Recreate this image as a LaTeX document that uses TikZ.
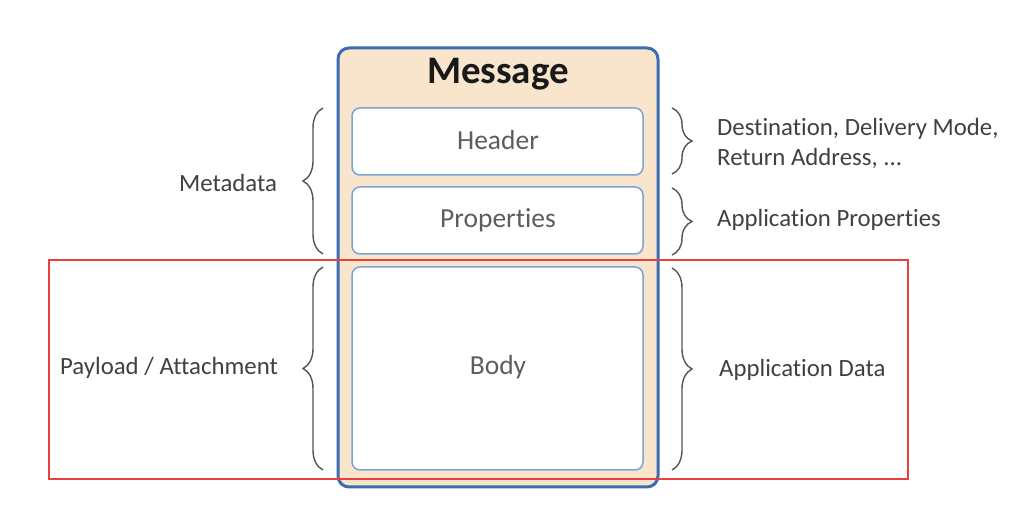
\documentclass[tikz,border=0pt]{standalone}
\usepackage{fontspec}
\setmainfont{Carlito}[Ligatures=NoCommon]
\usetikzlibrary{decorations.pathreplacing}
\definecolor{msgblue}{HTML}{3A6DB3}
\definecolor{msgfill}{HTML}{F9E5CB}
\definecolor{partblue}{HTML}{7AA3D6}
\definecolor{redframe}{HTML}{E8403C}
\definecolor{txtgray}{HTML}{404040}
\definecolor{bracegray}{HTML}{555555}
\tikzset{
  part/.style={draw=partblue, line width=1.5pt, fill=white, rounded corners=8pt, inner sep=0pt},
  partlabel/.style={text=txtgray!85, font=\fontsize{27.5}{30}\selectfont},
  sidelabel/.style={text=txtgray, font=\fontsize{24.8}{30}\selectfont, inner sep=0pt, align=left},
  bracel/.style={draw=bracegray, line width=1.4pt, decorate, decoration={brace, amplitude=20pt}},
}
\begin{document}
\begin{tikzpicture}[x=1pt,y=-1pt]
\useasboundingbox (0,0) rectangle (1026,510);
% message container
\draw[draw=msgblue, fill=msgfill, line width=3pt, rounded corners=11pt] (338,48) rectangle (658,487);
\node[font=\bfseries\fontsize{39}{42}\selectfont, text=black!90] (title) at (498,74) {Message};
% parts
\draw[part] (352,108) rectangle (643,175);
\node[partlabel] (header) at (498,140) {Header};
\draw[part] (352,187) rectangle (643,254);
\node[partlabel] (props) at (498,220) {Properties};
\draw[part] (352,267) rectangle (643,470);
\node[partlabel] (body) at (498,367) {Body};
% braces
\coordinate (lmb) at (323,254);
\coordinate (lmt) at (323,108);
\coordinate (lpb) at (323,470);
\coordinate (lpt) at (323,267);
\draw[bracel] (lmb) -- (lmt);
\draw[bracel] (lpb) -- (lpt);
\coordinate (rht) at (672,108);
\coordinate (rhb) at (672,174);
\coordinate (rpt) at (672,188);
\coordinate (rpb) at (672,255);
\coordinate (rdt) at (672,268);
\coordinate (rdb) at (672,470);
\draw[bracel] (rht) -- (rhb);
\draw[bracel] (rpt) -- (rpb);
\draw[bracel] (rdt) -- (rdb);
% side labels
\node[sidelabel] (meta) at (228,183) {Metadata};
\node[sidelabel] (payload) at (169,368) {Payload / Attachment};
\node[sidelabel, anchor=west] (dest) at (717,143) {Destination, Delivery Mode,\\Return Address, ...};
\node[sidelabel, anchor=west] (appprops) at (717,220) {Application Properties};
\node[sidelabel, anchor=west] (appdata) at (719,370) {Application Data};
% red frame
\draw[draw=redframe, line width=2pt] (49,260) rectangle (908,479);
\end{tikzpicture}
\end{document}
